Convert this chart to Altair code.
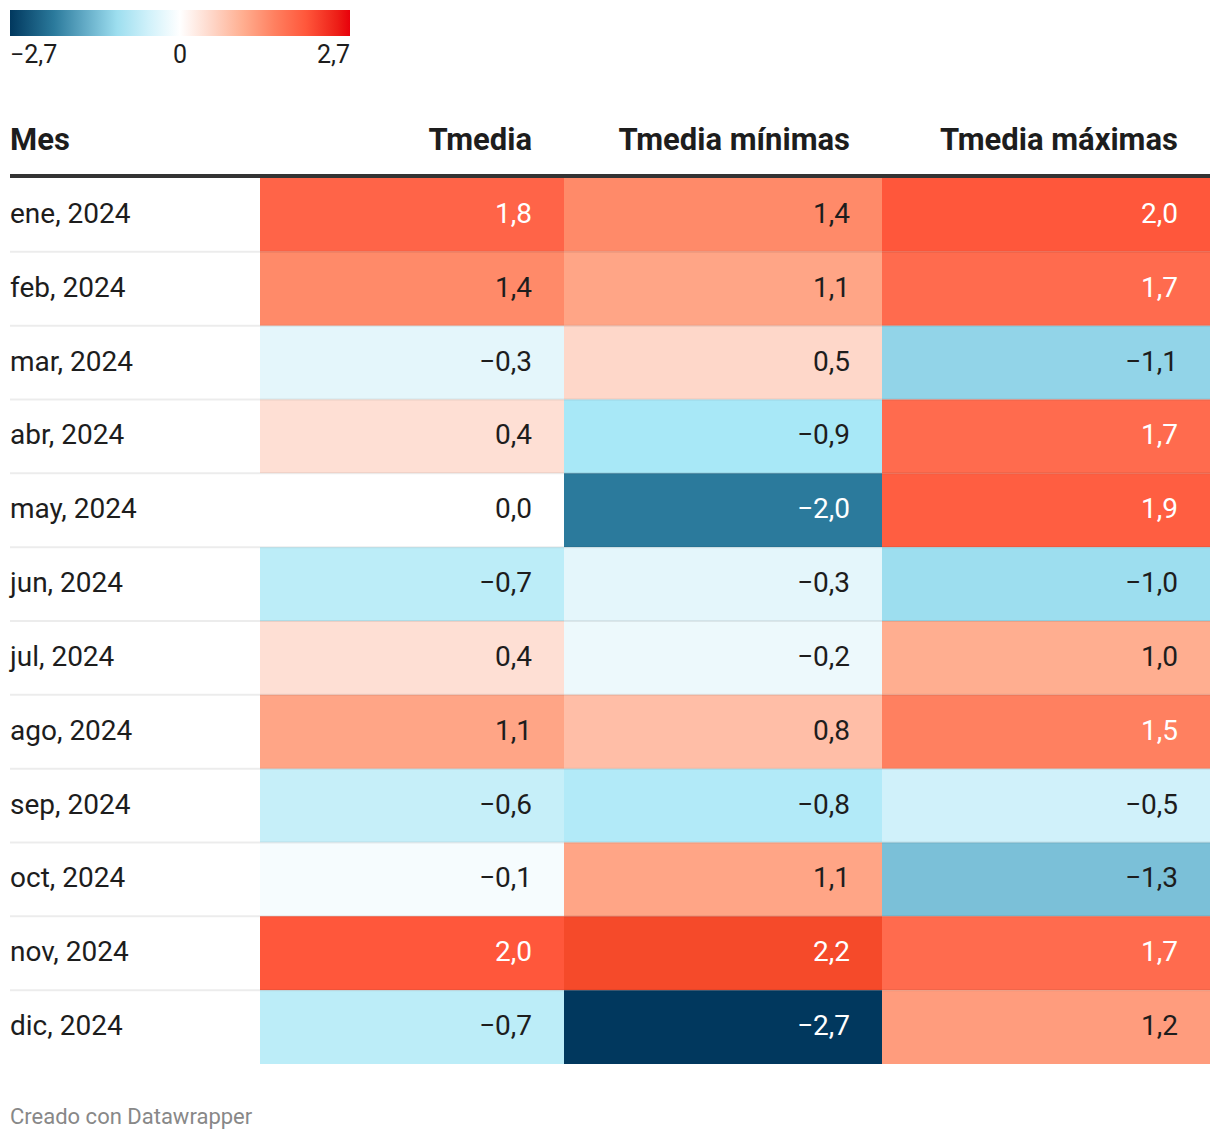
import altair as alt
import pandas as pd

# ---- data ----
meses = ["ene, 2024", "feb, 2024", "mar, 2024", "abr, 2024", "may, 2024", "jun, 2024",
         "jul, 2024", "ago, 2024", "sep, 2024", "oct, 2024", "nov, 2024", "dic, 2024"]
tmedia = [1.8, 1.4, -0.3, 0.4, 0.0, -0.7, 0.4, 1.1, -0.6, -0.1, 2.0, -0.7]
tmedia_min = [1.4, 1.1, 0.5, -0.9, -2.0, -0.3, -0.2, 0.8, -0.8, 1.1, 2.2, -2.7]
tmedia_max = [2.0, 1.7, -1.1, 1.7, 1.9, -1.0, 1.0, 1.5, -0.5, -1.3, 1.7, 1.2]
columnas = ["Tmedia", "Tmedia mínimas", "Tmedia máximas"]
encabezado_mes = "Mes"
nota = "Creado con Datawrapper"
legend_values = [-2.7, 0, 2.7]

# color scale stops
color_domain = [-2.7, -2.0, -1.3, -0.9, -0.3, 0.0, 0.4, 1.0, 1.4, 1.7, 2.0, 2.2, 2.7]
color_range = ["#01385e", "#2b7a9c", "#7bc0d8", "#a8e8f7", "#e4f6fb", "#ffffff",
               "#fedfd4", "#ffae90", "#ff8a69", "#ff6b4e", "#ff573b", "#f54a2a", "#e8000b"]

FONT = "Roboto"
TXT = "#1d1d1d"
H = 886


def etiqueta(v):
    s = f"{abs(v):.1f}".replace(".", ",")
    return ("\u2212" + s) if v < 0 else s


yscale = alt.Scale(type="band", domain=meses, paddingInner=0, paddingOuter=0)
color_scale = alt.Scale(domain=color_domain, range=color_range, interpolate="rgb")

sep_df = pd.DataFrame({"mes": meses[1:]})


def separadores(w):
    return alt.Chart(sep_df).mark_rule(color="#000000", opacity=0.075, strokeWidth=2).encode(
        y=alt.Y("mes:N", scale=yscale, axis=None, bandPosition=0),
        x=alt.value(0), x2=alt.value(w),
    )


def linea_cabecera(w):
    return alt.Chart(pd.DataFrame({"a": [1]})).mark_rect(color="#333333").encode(
        y=alt.value(-4), y2=alt.value(0), x=alt.value(0), x2=alt.value(w),
    )


def cabecera(texto, w, align):
    xpos = 0 if align == "left" else w - 32
    return alt.Chart(pd.DataFrame({"t": [texto]})).mark_text(
        align=align, baseline="alphabetic", font=FONT, fontSize=31, fontWeight="bold", color=TXT
    ).encode(text="t:N", x=alt.value(xpos), y=alt.value(-28))


# ---- Mes column ----
W0 = 250
mes_df = pd.DataFrame({"mes": meses})
mes_text = alt.Chart(mes_df).mark_text(
    align="left", baseline="middle", font=FONT, fontSize=28, color=TXT
).encode(
    y=alt.Y("mes:N", scale=yscale, axis=None),
    x=alt.value(0),
    text="mes:N",
)
footer = alt.Chart(pd.DataFrame({"t": [nota]})).mark_text(
    align="left", baseline="alphabetic", font=FONT, fontSize=22, color="#888888"
).encode(text="t:N", x=alt.value(0), y=alt.value(946))

panel_mes = alt.layer(
    mes_text, separadores(W0), linea_cabecera(W0), cabecera(encabezado_mes, W0, "left"), footer
).properties(width=W0, height=H)

# ---- value columns ----
anchos = [304, 318, 328]
series = [tmedia, tmedia_min, tmedia_max]
panels = [panel_mes]
for nombre, vals, w in zip(columnas, series, anchos):
    df = pd.DataFrame({"mes": meses, "valor": vals, "label": [etiqueta(v) for v in vals]})
    base = alt.Chart(df)
    rect = base.mark_rect().encode(
        y=alt.Y("mes:N", scale=yscale, axis=None),
        x=alt.value(0), x2=alt.value(w),
        color=alt.Color(
            "valor:Q", scale=color_scale, title=None,
            legend=alt.Legend(
                values=legend_values,
                labelOffset=7,
                labelExpr="datum.value == 0 ? '0' : replace(format(datum.value, '.1f'), '.', ',')",
            ),
        ),
    )
    text = base.mark_text(align="right", baseline="middle", font=FONT, fontSize=28).encode(
        y=alt.Y("mes:N", scale=yscale, axis=None),
        x=alt.value(w - 32),
        text="label:N",
        color=alt.condition("abs(datum.valor) >= 1.5", alt.value("#ffffff"), alt.value(TXT)),
    )
    p = alt.layer(rect, separadores(w), text, linea_cabecera(w), cabecera(nombre, w, "right")).properties(
        width=w, height=H
    )
    panels.append(p)

chart = alt.hconcat(*panels, spacing=0, bounds="flush").resolve_scale(color="shared").properties(
    padding={"left": 0, "top": 2, "right": 0, "bottom": 2},
    background="#ffffff",
).configure_view(stroke="transparent").configure_legend(
    orient="none", legendX=0, legendY=-168, direction="horizontal",
    gradientLength=340, gradientThickness=26, gradientStrokeWidth=0,
    labelFont=FONT, labelFontSize=25, labelColor=TXT, padding=0,
).configure_concat(spacing=0)

chart.save("out.html", embed_options={"renderer": "svg", "actions": False})
